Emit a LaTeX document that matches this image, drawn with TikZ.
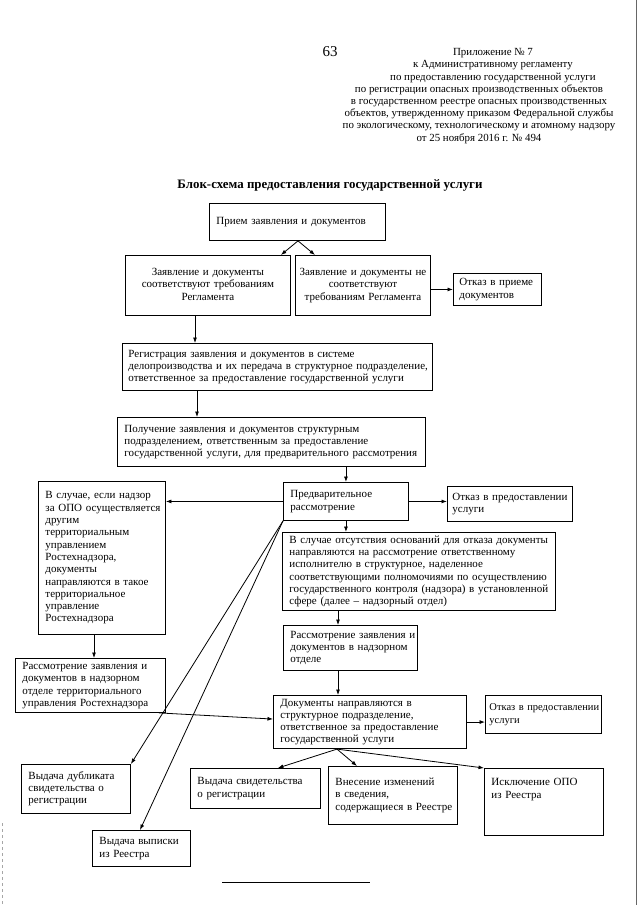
\documentclass[tikz,border=0pt]{standalone}
\usepackage{fontspec}
\setmainfont{Liberation Serif}
\usetikzlibrary{arrows.meta}
\newcommand{\boxfont}{\fontsize{11pt}{12.3pt}\selectfont}
\newcommand{\lns}[1]{\begin{tabular}{@{}l@{}}#1\end{tabular}}
\newcommand{\clns}[1]{\begin{tabular}{@{}c@{}}#1\end{tabular}}

\begin{document}
\begin{tikzpicture}
    [
      x=1pt,
      y=-1pt,
      blk/.style=
      {
        draw,
        line width=0.9pt,
        anchor=north west,
        align=left,
        inner xsep=7pt,
        inner ysep=2pt,
        font=\boxfont,
      },
      ctr/.style=
      {
        blk,
        align=center,
        inner xsep=3pt,
      },
      arr/.style=
      {
        -{Latex[length=5.5pt,width=4pt]},
        line width=0.8pt,
      },
      hdr/.style=
      {
        align=center,
        inner sep=0pt,
        font=\fontsize{10.9pt}{12.2pt}\selectfont,
      }
    ]
    \useasboundingbox[fill=white] (0,0) rectangle (640,905);

    % page head
    \node[inner sep=0pt, font=\fontsize{15pt}{16pt}\selectfont](pnum) at (330,52) {63};
    \node[hdr](head) at (479,96)
    {
      \hspace*{28pt}Приложение № 7\\
      \hspace*{28pt}к  Административному регламенту\\
      \hspace*{28pt}по предоставлению государственной услуги\\
      по регистрации опасных производственных объектов\\
      в государственном реестре опасных производственных\\
      объектов, утвержденному приказом Федеральной службы\\
      по экологическому, технологическому и атомному надзору\\
      от 25 ноября 2016 г. № 494
    };
    \node[inner sep=0pt, font=\fontsize{12.9pt}{14pt}\selectfont\bfseries](ttl) at (330,185)
    {Блок-схема предоставления государственной услуги};

    % boxes
    \node[blk, minimum width=176pt, minimum height=37pt, text width=162pt](priem) at (209,203)
    {\lns{Прием заявления и документов}};
    \node[ctr, minimum width=165pt, minimum height=60pt, text width=159pt](sootv) at (125,255)
    {\clns{Заявление и документы\\соответствуют требованиям\\Регламента}};
    \node[ctr, minimum width=135pt, minimum height=60pt, text width=129pt](nesootv) at (295,255)
    {\clns{Заявление и документы не\\соответствуют\\требованиям Регламента}};
    \node[blk, minimum width=88pt, minimum height=32pt, text width=76pt, inner xsep=6pt](otkaz1) at (453,273)
    {\lns{Отказ в приеме\\документов}};
    \node[blk, minimum width=310pt, minimum height=47pt, text width=298pt, inner xsep=6pt](reg) at (122,343)
    {\lns{Регистрация заявления и документов в системе\\
     делопроизводства и их передача в структурное подразделение,\\
     ответственное за предоставление государственной услуги}};
    \node[blk, minimum width=308pt, minimum height=49pt, text width=294pt](poluch) at (117,417)
    {\lns{Получение заявления и документов структурным\\
     подразделением, ответственным за предоставление\\
     государственной услуги, для предварительного рассмотрения}};
    \node[blk, minimum width=125pt, minimum height=38pt, text width=111pt](predv) at (283,482)
    {\lns{Предварительное\\рассмотрение}};
    \node[blk, minimum width=125pt, minimum height=35pt, text width=115pt, inner xsep=5pt](otkaz2) at (447,486)
    {\lns{Отказ в предоставлении\\услуги}};
    \node[blk, minimum width=127pt, minimum height=153pt, text width=113pt](drugoe) at (38,481)
    {\lns{В случае, если надзор\\за ОПО осуществляется\\другим\\территориальным\\управлением\\
     Ростехнадзора,\\документы\\направляются в такое\\территориальное\\управление\\Ростехнадзора}};
    \node[blk, minimum width=273pt, minimum height=78pt, text width=259pt](otsutst) at (282,532)
    {\lns{В случае отсутствия оснований для отказа документы\\
     направляются на  рассмотрение ответственному\\
     исполнителю в структурное, наделенное\\
     соответствующими полномочиями по осуществлению\\
     государственного контроля (надзора) в установленной\\
     сфере (далее – надзорный отдел)}};
    \node[blk, minimum width=134pt, minimum height=45pt, text width=120pt](rassm) at (283,625)
    {\lns{Рассмотрение заявления и\\документов в надзорном\\отделе}};
    \node[blk, minimum width=150pt, minimum height=54pt, text width=136pt](terr) at (15,658)
    {\lns{Рассмотрение заявления и\\документов в  надзорном\\отделе территориального\\управления Ростехнадзора}};
    \node[blk, minimum width=193pt, minimum height=53pt, text width=179pt](docs) at (273,695)
    {\lns{Документы направляются в\\структурное подразделение,\\ответственное за предоставление\\государственной услуги}};
    \node[blk, minimum width=116pt, minimum height=38pt, text width=108pt, inner xsep=4pt,
      font=\fontsize{10.5pt}{12.3pt}\selectfont](otkaz3) at (485,695)
    {\lns{Отказ в предоставлении\\услуги}};
    \node[blk, minimum width=109pt, minimum height=49pt, text width=95pt](dubl) at (21,764)
    {\lns{Выдача дубликата\\свидетельства о\\регистрации}};
    \node[blk, minimum width=98pt, minimum height=36pt, text width=84pt](vyp) at (92,830)
    {\lns{Выдача выписки\\из Реестра}};
    \node[blk, minimum width=130pt, minimum height=40pt, text width=116pt](svid) at (190,768)
    {\lns{Выдача свидетельства\\о регистрации}};
    \node[blk, minimum width=129pt, minimum height=58pt, text width=115pt](vnes) at (328,766)
    {\lns{Внесение изменений\\в сведения,\\содержащиеся в Реестре}};
    \node[blk, minimum width=119pt, minimum height=67pt, text width=105pt](iskl) at (484,768)
    {\lns{Исключение ОПО\\из Реестра\\~\\~}};

    % arrows
    \draw[arr] ([xshift=89pt]priem.south west) -- ([xshift=-10pt]sootv.north east);
    \draw[arr] ([xshift=89pt]priem.south west) -- ([xshift=20pt]nesootv.north west);
    \draw[arr] (nesootv.east |- otkaz1.west) -- (otkaz1.west);
    \draw[arr] ([xshift=70pt]sootv.south west) -- ([xshift=73pt]reg.north west);
    \draw[arr] ([xshift=75pt]reg.south west) -- ([xshift=80pt]poluch.north west);
    \draw[arr] (poluch.south -| predv.north) -- (predv.north);
    \draw[arr] (predv.east) -- (predv.east -| otkaz2.west);
    \draw[arr] (predv.west) -- (predv.west -| drugoe.east);
    \draw[arr] (predv.south) -- (predv.south |- otsutst.north);
    \draw[arr] ([xshift=55pt]rassm.north west |- otsutst.south) -- ([xshift=55pt]rassm.north west);
    \draw[arr] ([xshift=55pt]rassm.south west) -- ([xshift=55pt]rassm.south west |- docs.north);
    \draw[arr] (docs.east) -- (docs.east -| otkaz3.west);
    \draw[arr] ([xshift=56pt]drugoe.south west) -- ([xshift=79pt]terr.north west);
    \draw[arr] ([xshift=-7pt]terr.south east) -- ([yshift=3pt]docs.west);
    \draw[arr] (predv.south west) -- (dubl.north east);
    \draw[arr] (predv.south west) -- ([xshift=48pt]vyp.north west);
    \draw[arr] ([xshift=64pt]docs.south west) -- ([xshift=-43pt]svid.north east);
    \draw[arr] ([xshift=64pt]docs.south west) -- ([xshift=29pt]vnes.north west);
    \draw[arr] ([xshift=64pt]docs.south west) -- (iskl.north west);

    % foot rule and scan edges
    \draw[line width=0.8pt] (222,882) -- (370,882);
    \draw[line width=0.8pt, black!60] (636.5,0) -- (636.5,905);
    \draw[line width=0.5pt, black!35, dashed] (2.5,823) -- (2.5,905);
\end{tikzpicture}
\end{document}
